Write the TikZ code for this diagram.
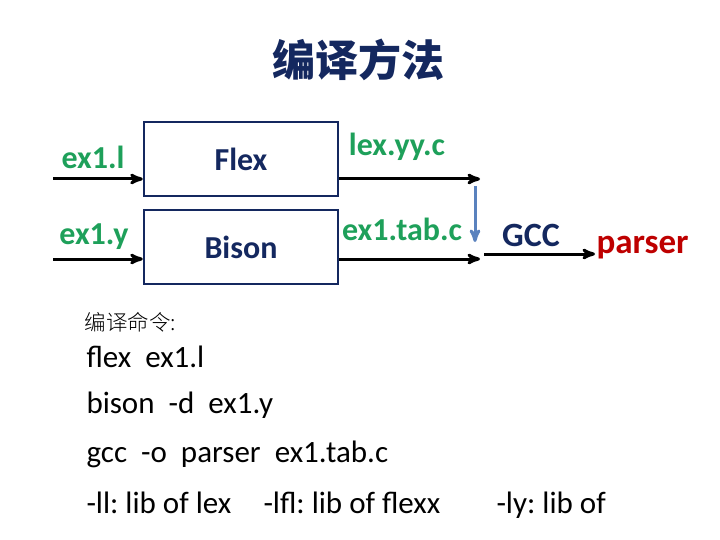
\documentclass[tikz,border=0pt]{standalone}
\usepackage{fontspec}
\setmainfont{Carlito}
\newfontfamily\cjk{Noto Sans CJK SC}
\newfontfamily\cjklight{Noto Sans CJK SC Light}
\usepackage{tikz}
\usetikzlibrary{arrows,positioning}

\definecolor{navy}{RGB}{20,40,95}
\definecolor{filegreen}{RGB}{30,160,90}
\definecolor{gccblue}{RGB}{90,130,190}
\definecolor{outred}{RGB}{190,0,0}

\begin{document}
\begin{tikzpicture}[x=1pt,y=-1pt,->,>=stealth',line width=3pt,
    tool/.style={draw=navy,line width=2.5pt,minimum width=194pt,minimum height=74pt,inner sep=0pt,
                 text=navy,font=\fontsize{32}{32}\selectfont\bfseries},
    file/.style={text=filegreen,font=\fontsize{32}{32}\selectfont\bfseries,inner sep=0pt},
    cmd/.style={anchor=base west,inner sep=0pt,font=\fontsize{31}{31}\selectfont\frenchspacing}]
            \useasboundingbox (0,0) rectangle (720,540);
            \node   [text=navy,font=\cjk\fontsize{43}{43}\selectfont\bfseries]  (title) at (358,60) {编译方法};

            \node   [tool]  (flex)  at (241,159)    {Flex};
            \node   [tool]  (bison) at (241,247)    {Bison};

            \node   [file]  (l)     at (93,157)     {ex1.l};
            \node   [file]  (y)     at (94,237)     {ex1.y};
            \node   [file]  (lexc)  at (397,147)    {lex.yy.c};
            \node   [file]  (tabc)  at (402,229)    {ex1.tab.c};
            \node   [text=navy,font=\fontsize{34}{34}\selectfont\bfseries,inner sep=0pt] (gcc) at (531,235) {GCC};
            \node   [text=outred,font=\fontsize{35}{35}\selectfont\bfseries,inner sep=0pt,anchor=west] (parser) at (595,248) {parser};

            \coordinate (lin)   at (53,179);
            \coordinate (yin)   at (53,259);
            \coordinate (lout)  at (480,179);
            \coordinate (yout)  at (480,259);
            \coordinate (gtop)  at (475,186);
            \coordinate (gbot)  at (475,242);
            \coordinate (gin)   at (484,254);

            \path   (lin) edge (lin -| flex.west)
                    (yin) edge (yin -| bison.west)
                    (lout -| flex.east) edge (lout)
                    (yout -| bison.east) edge (yout)
                    (gin) edge (gin -| parser.west);
            \path   (gtop) edge [draw=gccblue] (gbot);

            \node   [anchor=west,inner sep=0pt,font=\cjklight\fontsize{21.5}{21.5}\selectfont] (ml) at (83,322) {编译命令:};
            \node   [cmd]   (c1)    at (85,367)     {flex\ \ ex1.l};
            \node   [cmd]   (c2)    at (85,413)     {bison\ \ -d\ \ ex1.y};
            \node   [cmd]   (c3)    at (85,462)     {gcc\ \ -o\ \ parser\ \ ex1.tab.c};
            \node   [cmd]   (c4)    at (85,513)     {-ll: lib of lex};
            \node   [cmd]   (c5)    at (262,513)    {-lfl: lib of flexx};
            \node   [cmd]   (c6)    at (495,513)    {-ly: lib of};
            \node   [cmd]   (c7)    at (317,558)    {yacc};
        \end{tikzpicture}
\end{document}
